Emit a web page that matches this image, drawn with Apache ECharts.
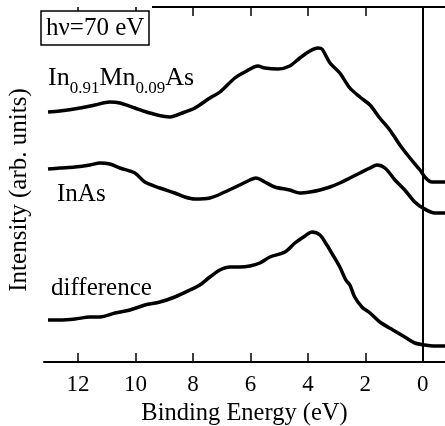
<!DOCTYPE html>
<html>
<head>
<meta charset="utf-8">
<script src="https://cdn.jsdelivr.net/npm/echarts@6/dist/echarts.min.js"></script>
<style>
  html, body { margin: 0; padding: 0; background: #fff; }
  #chart { width: 445px; height: 426px; }
</style>
</head>
<body>
<div id="chart"></div>
<script>
// binding energy (eV) and intensity (arb. units)
const mnEnergy = [13.04, 12.63, 11.93, 11.41, 10.89, 10.54, 10.02, 9.50, 8.80, 8.28, 7.93, 7.41, 7.06, 6.54, 6.19, 5.74, 5.50, 5.04, 4.63, 4.28, 3.93, 3.65, 3.51, 3.23, 2.89, 2.54, 2.19, 1.84, 1.50, 1.15, 0.80, 0.45, 0.10, -0.07, -0.31, -0.77];
const mnIntensity = [250, 251, 254, 257, 260, 259, 254, 249, 245, 250, 254, 264, 270, 284, 290, 296, 294, 293, 296, 304, 311, 314, 313, 299, 289, 274, 265, 257, 244, 232, 217, 204, 192, 185, 180, 180];

const inasEnergy = [13.04, 12.63, 12.10, 11.58, 11.23, 10.89, 10.54, 10.02, 9.67, 9.15, 8.63, 8.28, 7.93, 7.41, 6.89, 6.37, 6.02, 5.81, 5.50, 5.15, 4.63, 4.28, 3.93, 3.58, 3.23, 2.89, 2.54, 2.19, 1.84, 1.60, 1.32, 0.97, 0.63, 0.28, 0.00, -0.42, -0.77];
const inasIntensity = [193, 194, 195, 197, 199, 198, 194, 189, 180, 174, 169, 165, 163, 164, 170, 177, 182, 184, 180, 175, 172, 169, 170, 172, 175, 179, 184, 189, 194, 197, 194, 182, 172, 160, 154, 149, 149];

const diffEnergy = [13.04, 12.63, 12.10, 11.58, 11.23, 10.71, 10.19, 9.67, 9.15, 8.63, 8.10, 7.76, 7.41, 7.06, 6.71, 6.37, 6.02, 5.67, 5.32, 4.80, 4.45, 4.10, 3.86, 3.58, 3.34, 3.13, 2.89, 2.68, 2.54, 2.37, 2.12, 1.84, 1.50, 1.04, 0.63, 0.28, -0.07, -0.42, -0.77];
const diffIntensity = [42, 42, 43, 45, 45, 49, 52, 57, 60, 65, 72, 77, 85, 92, 95, 95, 96, 99, 105, 110, 119, 126, 130, 127, 117, 107, 95, 82, 77, 65, 55, 49, 40, 32, 25, 19, 17, 16, 16];

const tickValues = [12, 10, 8, 6, 4, 2, 0];

const yMax = 355;
const topTickLength = 9; // in intensity units (1 unit = 1 px here)

const serif = "'Liberation Serif', 'DejaVu Serif', serif";

function pairs(xs, ys) {
  return xs.map((x, i) => [x, ys[i]]);
}

function spectrum(name, xs, ys) {
  return {
    name,
    type: "line",
    smooth: 0.3,
    showSymbol: false,
    lineStyle: { color: "#000", width: 3.5 },
    data: pairs(xs, ys),
  };
}

// measure text so the subscripts can be laid out piece by piece
const measureCtx = document.createElement("canvas").getContext("2d");
function textWidth(str, size) {
  measureCtx.font = size + "px " + serif;
  return measureCtx.measureText(str).width;
}

// "In0.91Mn0.09As" as alternating normal / subscript pieces
const formulaParts = [["In", false], ["0.91", true], ["Mn", false], ["0.09", true], ["As", false]];
const formulaText = [];
let fx = 48;
formulaParts.forEach(([str, sub]) => {
  const size = sub ? 17 : 26;
  formulaText.push({
    type: "text",
    left: fx,
    top: sub ? 80 : 65,
    style: { text: str, fontFamily: serif, fontSize: size, fill: "#000" },
  });
  fx += textWidth(str, size);
});

const chart = echarts.init(document.getElementById("chart"), null, { renderer: "canvas" });

const series = [
  spectrum("In0.91Mn0.09As", mnEnergy, mnIntensity),
  spectrum("InAs", inasEnergy, inasIntensity),
  spectrum("difference", diffEnergy, diffIntensity),
];
// inward ticks along the top frame
series[0].markLine = {
  silent: true,
  symbol: "none",
  label: { show: false },
  lineStyle: { color: "#000", width: 1.5, type: "solid" },
  data: tickValues.map((v) => [{ coord: [v, yMax] }, { coord: [v, yMax - topTickLength] }]),
};
// E = 0 marker line
series[2].markLine = {
  silent: true,
  symbol: "none",
  label: { show: false },
  lineStyle: { color: "#000", width: 2, type: "solid" },
  data: [{ xAxis: 0 }],
};

chart.setOption({
  animation: false,
  backgroundColor: "#fff",
  textStyle: { fontFamily: serif, color: "#000" },
  title: {
    text: "hν=70 eV",
    left: 41,
    top: 11,
    padding: [4, 5, 3, 5],
    borderColor: "#000",
    borderWidth: 1.5,
    backgroundColor: "#fff",
    textStyle: { fontFamily: serif, fontSize: 25, fontWeight: "normal", color: "#000", lineHeight: 27 },
  },
  grid: { left: 44, right: 0, top: 7, bottom: 64, outerBoundsMode: "none" },
  xAxis: [
    {
      type: "value",
      inverse: true,
      min: -0.77,
      max: 13.18,
      position: "bottom",
      name: "Binding Energy (eV)",
      nameLocation: "middle",
      nameGap: 31,
      nameTextStyle: { fontFamily: serif, fontSize: 24.5, color: "#000" },
      axisLine: { show: true, lineStyle: { color: "#000", width: 2 } },
      axisTick: { show: true, inside: true, length: 9, customValues: tickValues, lineStyle: { color: "#000", width: 1.5 } },
      axisLabel: { customValues: tickValues, margin: 11, fontFamily: serif, fontSize: 23, color: "#000" },
      splitLine: { show: false },
    },
    {
      // top frame line only
      type: "value",
      inverse: true,
      min: -0.77,
      max: 13.18,
      position: "top",
      axisLine: { show: true, onZero: false, lineStyle: { color: "#000", width: 2 } },
      axisTick: { show: false },
      axisLabel: { show: false },
      splitLine: { show: false },
    },
  ],
  yAxis: {
    type: "value",
    min: 0,
    max: yMax,
    name: "Intensity (arb. units)",
    nameLocation: "middle",
    nameGap: 12,
    nameTextStyle: { fontFamily: serif, fontSize: 25, color: "#000", padding: [0, 11, 0, 0] },
    axisLine: { show: true, lineStyle: { color: "#000", width: 1.5 } },
    axisTick: { show: false },
    axisLabel: { show: false },
    splitLine: { show: false },
  },
  graphic: [
    {
      // blank out the frame above the inset box
      type: "rect",
      left: 38,
      top: 0,
      z: 5,
      shape: { width: 114, height: 12 },
      style: { fill: "#fff" },
    },
    ...formulaText,
    {
      type: "text",
      left: 57,
      top: 182,
      style: { text: "InAs", fontFamily: serif, fontSize: 25, fill: "#000" },
    },
    {
      type: "text",
      left: 51,
      top: 276,
      style: { text: "difference", fontFamily: serif, fontSize: 25, fill: "#000" },
    },
  ],
  series,
});
</script>
</body>
</html>
